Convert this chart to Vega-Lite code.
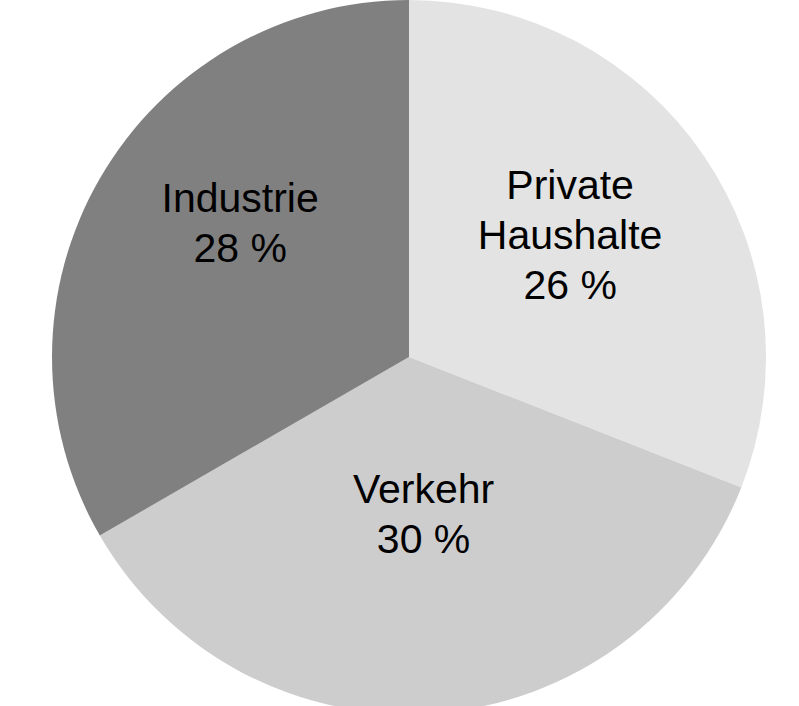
{
  "$schema": "https://vega.github.io/schema/vega-lite/v6.json",
  "width": 818,
  "height": 714,
  "autosize": {"type": "none"},
  "padding": 0,
  "background": "white",
  "view": {"stroke": null},
  "data": {
    "values": [
      {"sector": "Private Haushalte", "rank": 1, "share": 26, "label": "Private\nHaushalte\n26 %"},
      {"sector": "Verkehr", "rank": 2, "share": 30, "label": "Verkehr\n30 %"},
      {"sector": "Industrie", "rank": 3, "share": 28, "label": "Industrie\n28 %"}
    ]
  },
  "encoding": {
    "theta": {"field": "share", "type": "quantitative", "stack": true},
    "order": {"field": "rank", "type": "quantitative", "sort": "ascending"},
    "color": {
      "field": "sector",
      "type": "nominal",
      "scale": {"domain": ["Private Haushalte", "Verkehr", "Industrie"], "range": ["#e3e3e3", "#cdcdcd", "#808080"]},
      "legend": null
    }
  },
  "layer": [
    {"mark": {"type": "arc", "outerRadius": 357, "stroke": null}},
    {
      "mark": {"type": "text", "radius": 195, "dy": -60, "fontSize": 41, "lineHeight": 50, "lineBreak": "\n", "font": "Liberation Sans", "align": "center", "baseline": "middle"},
      "encoding": {"text": {"field": "label"}, "color": {"value": "black"}}
    }
  ]
}
